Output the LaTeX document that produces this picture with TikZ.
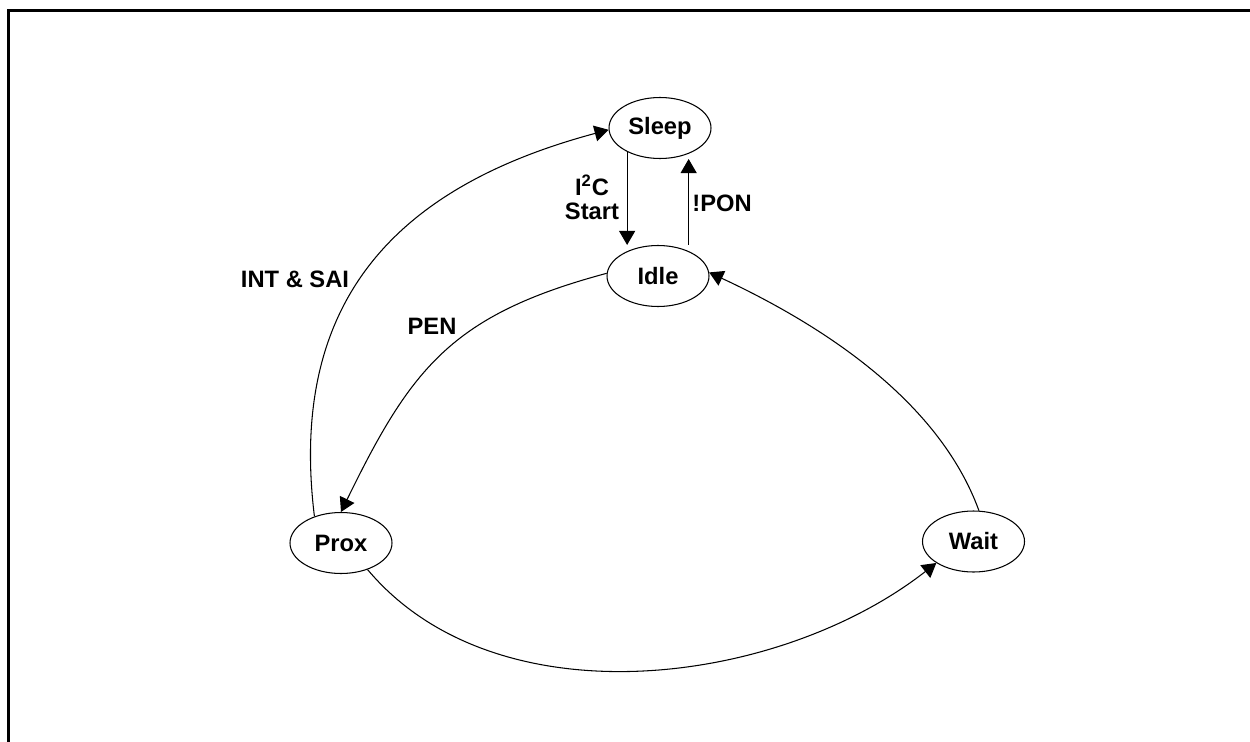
\documentclass[tikz,border=0pt]{standalone}
\usepackage{fontspec}
\setmainfont{Liberation Sans}
\usetikzlibrary{arrows.meta, shapes.geometric}

\tikzset{
    statenode/.style={ellipse, draw, line width=0.6pt, inner sep=0pt,
                      minimum width=2.04cm, minimum height=1.22cm}
}

\begin{document}
\begin{tikzpicture}[font=\fontsize{13.5}{13.6}\selectfont\bfseries]
        \useasboundingbox (0,0) rectangle (25,-14.84);
        % Frame
        \draw[line width=0.06cm] (0.16,-14.84) |- (25,-0.22);
        % Draw the states
        \node[statenode] at (13.2, -2.56)   (sleep) {Sleep};
        \node[statenode] at (13.16, -5.52)  (idle)  {Idle};
        \node[statenode] at (6.82, -10.86)  (prox)  {Prox};
        \node[statenode] at (19.47, -10.83) (wait)  {Wait};
        % Transition labels
        \node at (5.9, -5.58)   (intsai) {INT \& SAI};
        \node at (8.64, -6.52)  (pen)    {PEN};
        \node[align=center] at (11.84, -3.94) (i2c) {I\textsuperscript{2}C\\Start};
        \node at (14.44, -4.06) (npon)   {!PON};
        % Connect the states with arrows
        \draw[line width=0.6pt,
              every edge/.style={draw, ->},
              >={Triangle[length=0.28cm, width=0.32cm]}]
            (sleep.216)               edge (idle.north -| sleep.216)
            (idle.north -| sleep.-42) edge (sleep.south -| sleep.-42)
            (idle.177)  edge[out=195, in=64,  looseness=1.15] (prox.north)
            (prox.135)  edge[out=97,  in=195, looseness=1.15] (sleep.182)
            (prox.-45)  edge[out=-50, in=218, looseness=0.9]  (wait.210)
            (wait.80)   edge[out=110, in=-25, looseness=0.85] (idle.4);
\end{tikzpicture}
\end{document}
